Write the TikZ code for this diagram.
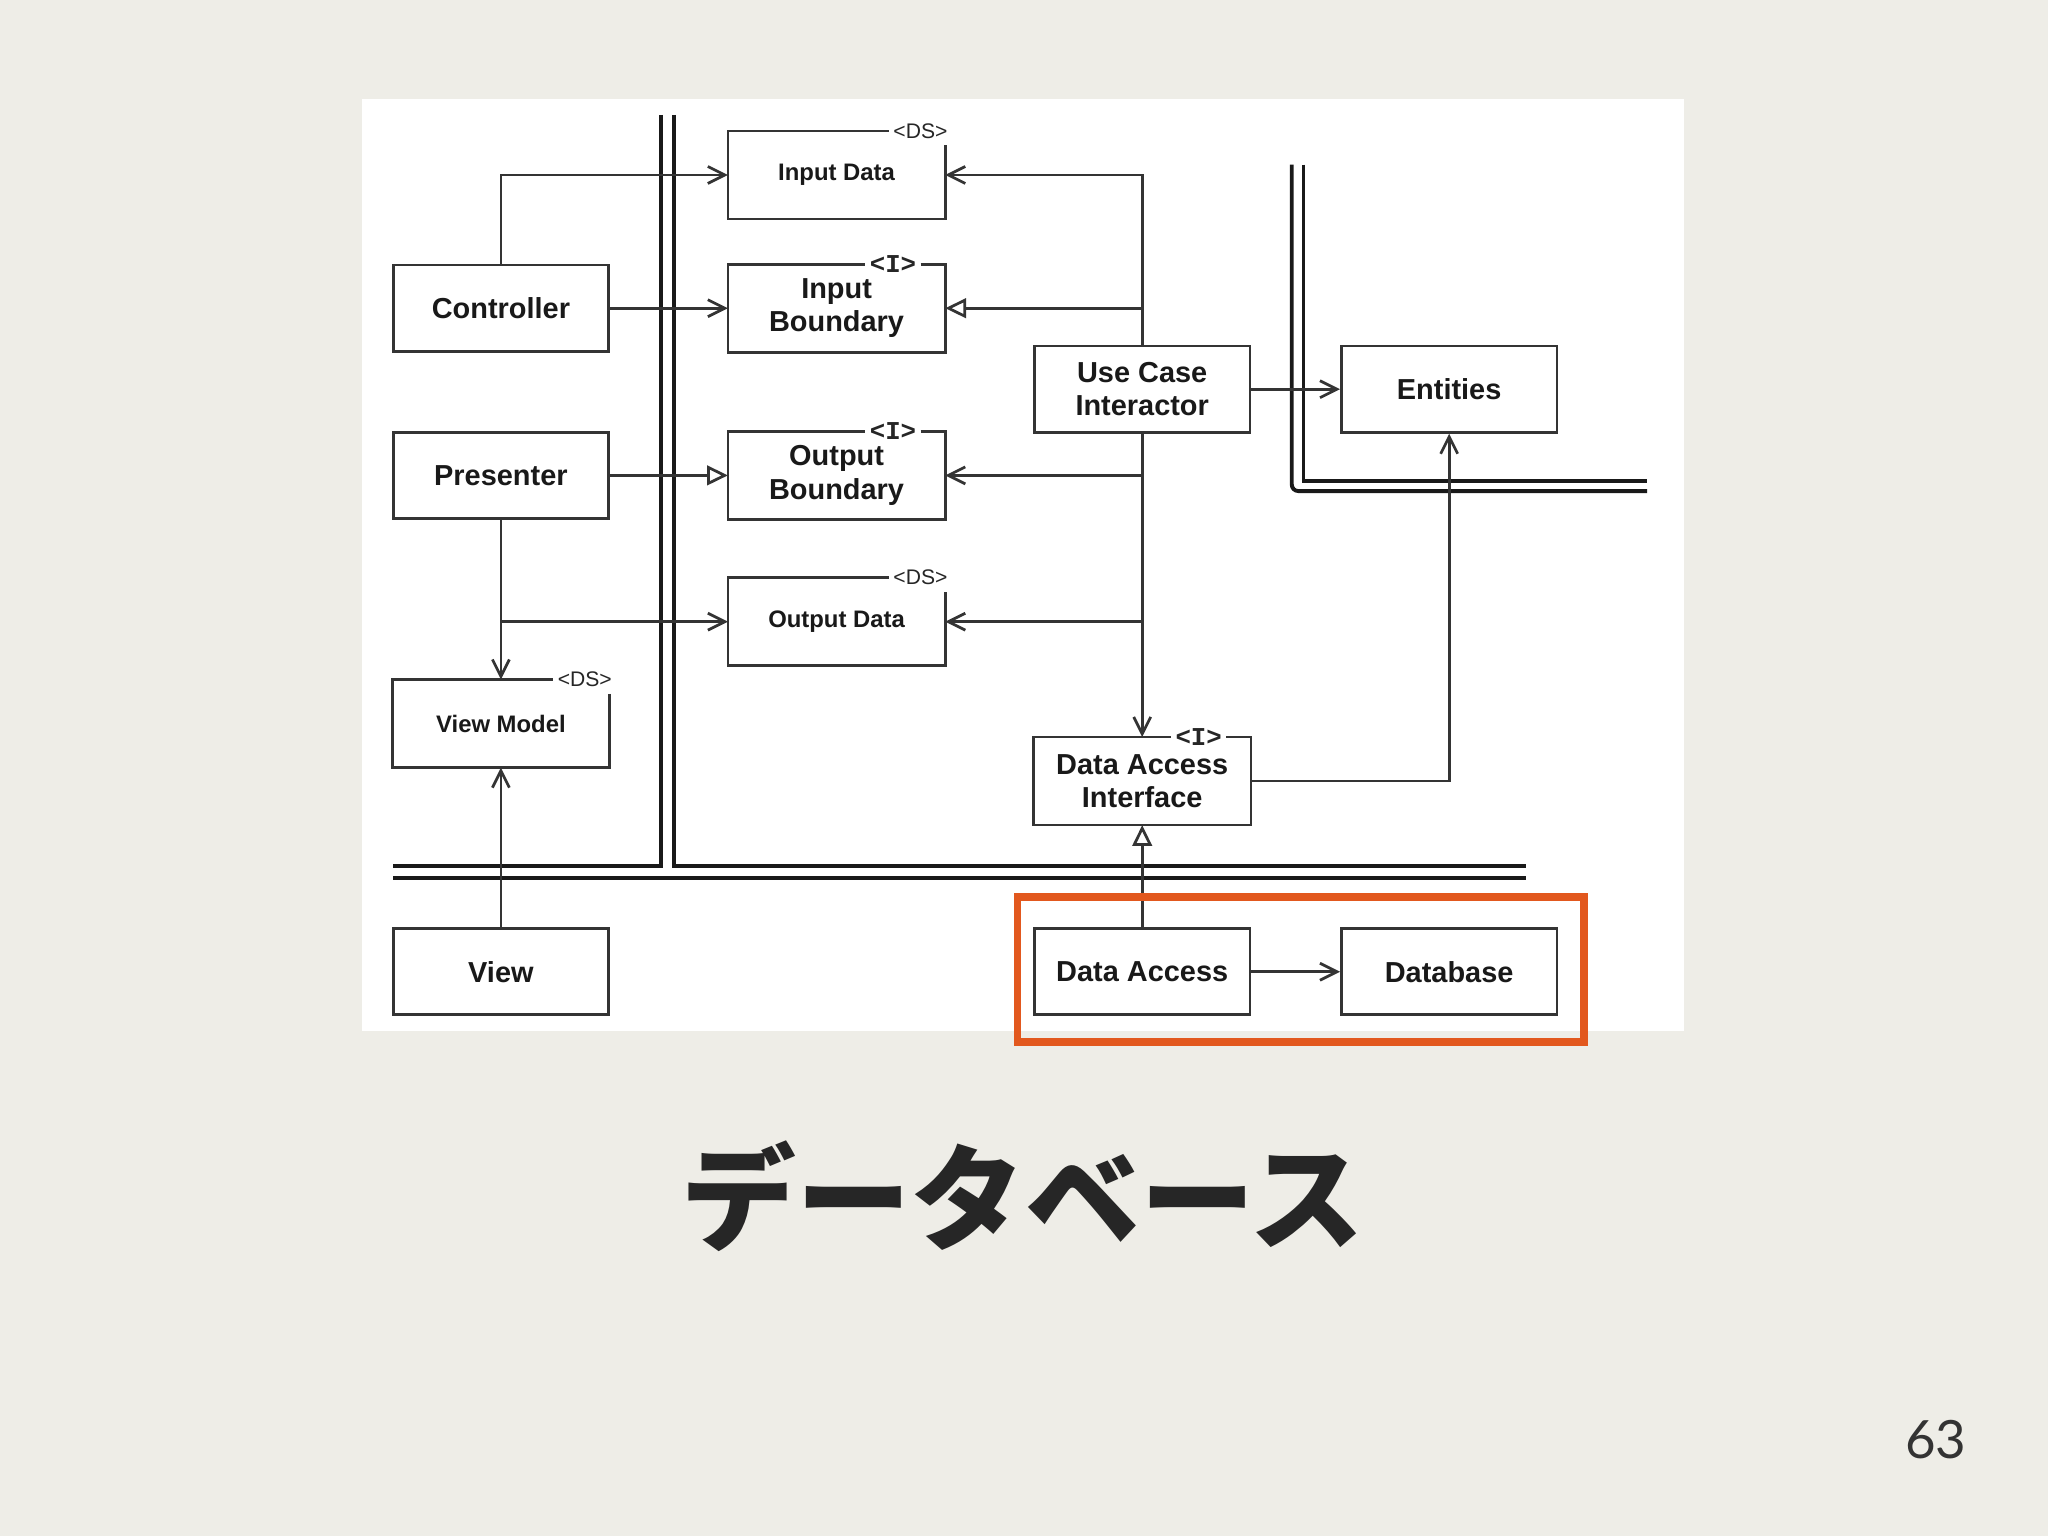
\documentclass[tikz,border=0pt]{standalone}
\usepackage{fontspec}
\setmainfont{Liberation Sans}
\newfontfamily\cjk{Noto Sans CJK JP}
\newfontfamily\pagefont{Lato}
\newfontfamily\stmono{Liberation Mono}
\usetikzlibrary{arrows.meta}
\definecolor{slidebg}{RGB}{238,237,231}
\definecolor{linec}{RGB}{52,52,52}
\definecolor{hilite}{RGB}{226,88,30}
\tikzset{
  frm/.style={draw=linec,line width=0.6pt},
  cls/.style={minimum width=1.65cm,minimum height=0.66cm,align=center,inner sep=1pt,
    text=black!90,font=\fontsize{6.3}{7.2}\selectfont\bfseries},
  clsbox/.style={cls,frm},
  dscls/.style={cls,font=\fontsize{5.2}{6}\selectfont\bfseries},
  dslab/.style={inner sep=0.8pt,font=\fontsize{4.6}{5}\selectfont,text=black!85},
  ilab/.style={inner sep=0.8pt,font=\fontsize{5.6}{6}\selectfont\stmono\bfseries,text=black!85},
  ar/.style={frm,-{Straight Barb[length=1.3mm,width=1.3mm]}},
  tri/.style={frm,-{Triangle[open,fill=white,length=1.6mm,width=1.5mm]}},
  layer/.style={draw=black!90,line width=0.85pt}
}
\begin{document}
\begin{tikzpicture}
  \useasboundingbox (0,0) rectangle (15.68,11.76);
  \fill[slidebg] (0,0) rectangle (15.68,11.76);
  \fill[white] (2.77,3.87) rectangle (12.89,11.00);

  % layer boundaries
  \draw[layer] (5.06,10.88) -- (5.06,5.13) -- (3.01,5.13);
  \draw[layer] (5.16,10.88) -- (5.16,5.13) -- (11.68,5.13);
  \draw[layer] (3.01,5.04) -- (11.68,5.04);
  \draw[layer,rounded corners=0.5mm] (9.89,10.50) -- (9.89,8.00) -- (12.61,8.00);
  \draw[layer] (9.98,10.50) -- (9.98,8.08) -- (12.61,8.08);

  % classes
  \node[clsbox] (ctrl) at (3.835,9.40) {Controller};
  \node[clsbox] (pres) at (3.835,8.12) {Presenter};
  \node[dscls] (vmodel) at (3.835,6.22) {View Model};
  \node[clsbox] (view) at (3.835,4.32) {View};
  \node[dscls] (indata) at (6.405,10.42) {Input Data};
  \node[cls] (inbound) at (6.405,9.40) {Input\\Boundary};
  \node[cls] (outbound) at (6.405,8.12) {Output\\Boundary};
  \node[dscls] (outdata) at (6.405,7.00) {Output Data};
  \node[clsbox] (uci) at (8.745,8.78) {Use Case\\Interactor};
  \node[clsbox] (ent) at (11.095,8.78) {Entities};
  \node[cls] (dai) at (8.745,5.78) {Data Access\\Interface};
  \node[clsbox] (dacc) at (8.745,4.32) {Data Access};
  \node[clsbox] (db) at (11.095,4.32) {Database};

  % stereotypes
  \node[dslab] (indataS) at ([xshift=-0.19cm]indata.north east) {<DS>};
  \node[dslab] (outdataS) at ([xshift=-0.19cm]outdata.north east) {<DS>};
  \node[dslab] (vmodelS) at ([xshift=-0.19cm]vmodel.north east) {<DS>};
  \node[ilab] (inboundS) at ([xshift=-0.40cm]inbound.north east) {<I>};
  \node[ilab] (outboundS) at ([xshift=-0.40cm]outbound.north east) {<I>};
  \node[ilab] (daiS) at ([xshift=-0.40cm]dai.north east) {<I>};
  \draw[frm] ([yshift=-0.11cm]indata.north east) |- (indata.south west) |- (indataS.west);
  \draw[frm] ([yshift=-0.11cm]outdata.north east) |- (outdata.south west) |- (outdataS.west);
  \draw[frm] ([yshift=-0.11cm]vmodel.north east) |- (vmodel.south west) |- (vmodelS.west);
  \draw[frm] (inboundS.east) -| (inbound.south east) -| (inbound.north west) -- (inboundS.west);
  \draw[frm] (outboundS.east) -| (outbound.south east) -| (outbound.north west) -- (outboundS.west);
  \draw[frm] (daiS.east) -| (dai.south east) -| (dai.north west) -- (daiS.west);

  % dependencies
  \draw[ar] (ctrl.north) |- (indata.west);
  \draw[ar] (ctrl.east) -- (inbound.west);
  \draw[tri] (pres.east) -- (outbound.west);
  \draw[ar] (pres.south) -- (vmodel.north);
  \draw[ar] (pres.south |- outdata.west) -- (outdata.west);
  \draw[ar] (view.north) -- (vmodel.south);
  \draw[ar] (uci.north) |- (indata.east);
  \draw[tri] (uci.north |- inbound.east) -- (inbound.east);
  \draw[ar] (uci.south) -- (dai.north);
  \draw[ar] (uci.south |- outbound.east) -- (outbound.east);
  \draw[ar] (uci.south |- outdata.east) -- (outdata.east);
  \draw[ar] (uci.east) -- (ent.west);
  \draw[ar] (dai.east) -| (ent.south);
  \draw[tri] (dacc.north) -- (dai.south);
  \draw[ar] (dacc.east) -- (db.west);

  % highlight
  \draw[hilite,line width=1.7pt] (7.79,4.89) rectangle (12.13,3.78);

  \node[font=\fontsize{25}{30}\selectfont\cjk\bfseries,text=black!85] (title) at (7.83,2.60) {データベース};
  \node[font=\fontsize{11.5}{14}\selectfont\pagefont,text=black!80] (pageno) at (14.82,0.74) {63};
\end{tikzpicture}
\end{document}
